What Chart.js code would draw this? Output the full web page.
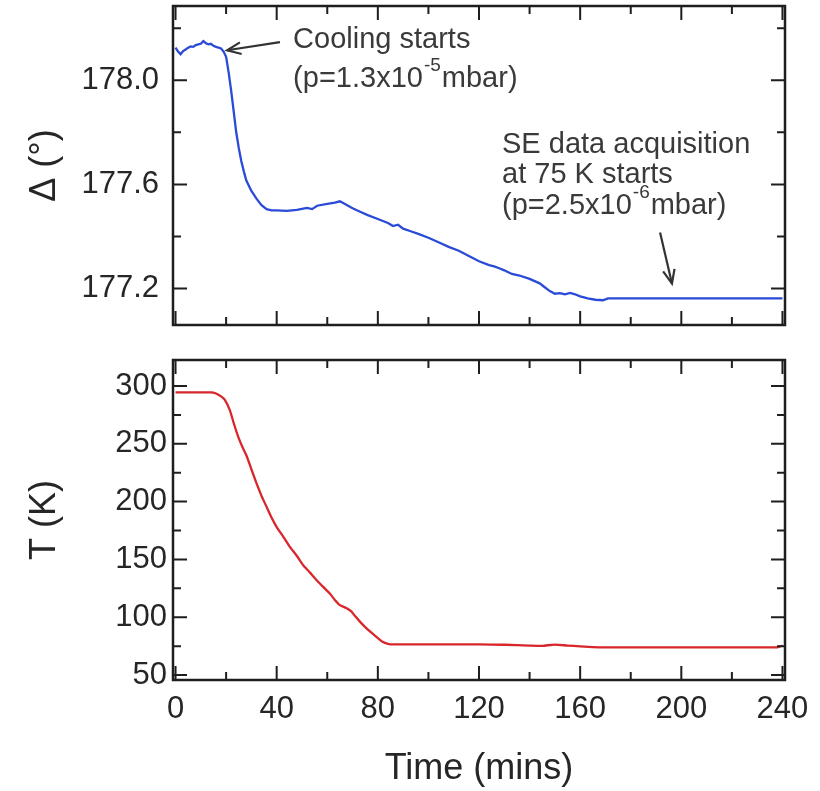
<!DOCTYPE html>
<html lang="en">
<head>
<meta charset="UTF-8">
<title>Cooling run: Δ and T vs time</title>
<script src="https://cdn.jsdelivr.net/npm/chart.js"></script>
<style>
  body { margin: 0; background: #fff; }
  #wrap { position: relative; width: 820px; height: 791px; }
  .panel { position: absolute; left: 0; width: 820px; }
  #topPanel { top: 0; height: 340px; }
  #bottomPanel { top: 340px; height: 451px; }
</style>
</head>
<body>
<div id="wrap">
  <div class="panel" id="topPanel"><canvas id="deltaChart"></canvas></div>
  <div class="panel" id="bottomPanel"><canvas id="tempChart"></canvas></div>
</div>

<script>
// ellipsometric angle Δ during cool-down
const deltaTime = [0, 1, 2, 3, 4, 5, 6, 7, 8, 9, 10, 11, 12, 13, 14, 15, 16, 17, 18, 19,
  20, 21, 22, 23, 24, 25, 26, 27, 28, 30, 32, 34, 36, 38, 40, 44, 48, 52, 54, 56,
  60, 63, 65, 67, 70, 73, 76, 80, 84, 86, 88, 90, 93, 96, 100, 104, 108, 112, 116, 120,
  124, 126, 128, 130, 133, 136, 140, 144, 146, 148, 150, 152, 154, 156, 158, 160, 163, 166, 169, 171,
  200, 240];
const deltaValues = [178.125, 178.11, 178.100, 178.112, 178.118, 178.125, 178.13, 178.128, 178.135, 178.138,
  178.14, 178.15, 178.142, 178.138, 178.14, 178.132, 178.128, 178.125, 178.122, 178.11,
  178.09, 178.03, 177.96, 177.88, 177.80, 177.74, 177.69, 177.65, 177.615, 177.575,
  177.545, 177.52, 177.505, 177.50, 177.50, 177.498, 177.502, 177.51, 177.505, 177.518,
  177.525, 177.53, 177.535, 177.525, 177.508, 177.495, 177.482, 177.467, 177.452, 177.44,
  177.445, 177.43, 177.42, 177.41, 177.395, 177.378, 177.36, 177.345, 177.325, 177.305,
  177.29, 177.285, 177.278, 177.27, 177.256, 177.25, 177.237, 177.22, 177.205, 177.19,
  177.18, 177.182, 177.178, 177.183, 177.178, 177.17, 177.162, 177.157, 177.155, 177.162,
  177.162, 177.162];

// sample temperature
const tempTime = [0, 14, 16, 18, 19.5, 21.5, 23, 24.8, 26.5, 28.2, 30, 32, 34, 36, 38, 40,
  42.5, 45, 48, 50.5, 53, 55.8, 58.5, 61, 63, 65, 67.5, 69.5, 71, 73, 75, 77, 80, 82, 84, 86,
  100, 120, 130, 140, 145, 150, 155, 160, 165, 170, 200, 230, 238, 240];
const tempValues = [294.5, 294.5, 293.5, 291, 288, 279, 268, 256, 247, 239, 228, 216, 205, 195.5, 186, 178,
  170, 161.5, 153, 145, 139, 132, 126, 120.5, 115, 110.5, 108, 105, 101, 96, 91.5, 87.5, 82, 78.5, 77, 76.5,
  76.5, 76.5, 76.2, 75.5, 75.3, 76.3, 75.5, 74.8, 74.2, 74, 74, 74, 74, 75.5];

// axis ticks
const timeLabels = [0, 40, 80, 120, 160, 200, 240];
const timeMinor = [20, 60, 100, 140, 180, 220];
const deltaLabels = [177.2, 177.6, 178.0];
const deltaMinor = [177.4, 177.8, 178.2];
const tempLabels = [50, 100, 150, 200, 250, 300];
const tempMinor = [75, 125, 175, 225, 275];

const FONT = '"Liberation Sans", Arial, Helvetica, sans-serif';
const INK = '#262626';

// inward tick marks on all four sides plus the box frame
const frameTicks = {
  id: 'frameTicks',
  afterDatasetsDraw(chart, args, opts) {
    const { ctx, chartArea: a, scales } = chart;
    ctx.save();
    ctx.strokeStyle = '#1e1e1e';
    ctx.lineWidth = 2;
    const mark = (scale, values, len) => {
      values.forEach(v => {
        const p = scale.getPixelForValue(v);
        ctx.beginPath();
        if (scale.isHorizontal()) {
          ctx.moveTo(p, a.bottom); ctx.lineTo(p, a.bottom - len);
          ctx.moveTo(p, a.top); ctx.lineTo(p, a.top + len);
        } else {
          ctx.moveTo(a.left, p); ctx.lineTo(a.left + len, p);
          ctx.moveTo(a.right, p); ctx.lineTo(a.right - len, p);
        }
        ctx.stroke();
      });
    };
    mark(scales.x, opts.xMajor, 14);
    mark(scales.x, opts.xMinor, 8);
    mark(scales.y, opts.yMajor, 14);
    mark(scales.y, opts.yMinor, 8);
    ctx.lineWidth = 2.5;
    ctx.strokeRect(a.left, a.top, a.right - a.left, a.bottom - a.top);
    ctx.restore();
  }
};

// text notes and arrows, placed in data units
const noteFont = 29;
const coolingNote = { t: 46.5, lines: [178.123, 177.973], text: 'Cooling starts', base: '(p=1.3x10', sup: '-5', tail: 'mbar)' };
const coolingArrow = { from: [41.3, 178.146], to: [20.4, 178.115] };
const seNote = { t: 129.1, lines: [177.719, 177.604, 177.485], text: ['SE data acquisition', 'at 75 K starts'], base: '(p=2.5x10', sup: '-6', tail: 'mbar)' };
const seArrow = { from: [191.6, 177.415], to: [196.3, 177.219] };

function supLine(ctx, x, y, base, sup, tail) {
  ctx.font = noteFont + 'px ' + FONT;
  ctx.fillText(base, x, y);
  x += ctx.measureText(base).width + 1;
  ctx.font = '19px ' + FONT;
  ctx.fillText(sup, x, y - 16);
  x += ctx.measureText(sup).width + 1;
  ctx.font = noteFont + 'px ' + FONT;
  ctx.fillText(tail, x, y);
}

function arrow(ctx, x0, y0, x1, y1) {
  const ang = Math.atan2(y1 - y0, x1 - x0);
  ctx.beginPath();
  ctx.moveTo(x0, y0); ctx.lineTo(x1, y1);
  ctx.stroke();
  ctx.beginPath();
  ctx.moveTo(x1 - 15 * Math.cos(ang - 0.4), y1 - 15 * Math.sin(ang - 0.4));
  ctx.lineTo(x1, y1);
  ctx.lineTo(x1 - 15 * Math.cos(ang + 0.4), y1 - 15 * Math.sin(ang + 0.4));
  ctx.stroke();
}

const notes = {
  id: 'notes',
  afterDraw(chart) {
    const { ctx, scales: { x, y } } = chart;
    const px = t => x.getPixelForValue(t);
    const py = v => y.getPixelForValue(v);
    ctx.save();
    ctx.fillStyle = '#3a3a3a';
    ctx.strokeStyle = '#333';
    ctx.lineWidth = 2.2;
    ctx.textBaseline = 'alphabetic';
    ctx.textAlign = 'left';

    ctx.font = noteFont + 'px ' + FONT;
    ctx.fillText(coolingNote.text, px(coolingNote.t), py(coolingNote.lines[0]));
    supLine(ctx, px(coolingNote.t), py(coolingNote.lines[1]), coolingNote.base, coolingNote.sup, coolingNote.tail);
    arrow(ctx, px(coolingArrow.from[0]), py(coolingArrow.from[1]), px(coolingArrow.to[0]), py(coolingArrow.to[1]));

    ctx.font = noteFont + 'px ' + FONT;
    seNote.text.forEach((s, i) => ctx.fillText(s, px(seNote.t), py(seNote.lines[i])));
    supLine(ctx, px(seNote.t), py(seNote.lines[2]), seNote.base, seNote.sup, seNote.tail);
    arrow(ctx, px(seArrow.from[0]), py(seArrow.from[1]), px(seArrow.to[0]), py(seArrow.to[1]));
    ctx.restore();
  }
};

function yAxis(min, max, labels, fmt, title, pad) {
  return {
    type: 'linear', min: min, max: max,
    afterFit: s => { s.width = 173; s.paddingTop = 0; s.paddingBottom = 0; },
    afterBuildTicks: s => { s.ticks = labels.map(v => ({ value: v })); },
    grid: { display: false, drawTicks: false },
    border: { display: false },
    ticks: { autoSkip: false, padding: pad, color: INK, font: { family: FONT, size: 31 }, callback: fmt },
    title: { display: true, text: title, color: INK, font: { family: FONT, size: 36 }, padding: { top: 23, bottom: 0 } }
  };
}

const common = {
  responsive: true,
  maintainAspectRatio: false,
  animation: false,
  events: []
};

new Chart(document.getElementById('deltaChart'), {
  type: 'line',
  data: {
    datasets: [{
      data: deltaTime.map((t, i) => ({ x: t, y: deltaValues[i] })),
      borderColor: '#2a4bd7',
      borderWidth: 2.3,
      pointRadius: 0,
      tension: 0
    }]
  },
  options: Object.assign({}, common, {
    layout: { padding: { top: 6, right: 35, bottom: 15, left: 0 } },
    plugins: {
      legend: { display: false },
      tooltip: { enabled: false },
      frameTicks: { xMajor: timeLabels, xMinor: timeMinor, yMajor: deltaLabels, yMinor: deltaMinor }
    },
    scales: {
      x: { type: 'linear', display: false, min: -1, max: 241 },
      y: yAxis(177.06, 178.285, deltaLabels, v => v.toFixed(1), 'Δ (°)', 14)
    }
  }),
  plugins: [frameTicks, notes]
});

new Chart(document.getElementById('tempChart'), {
  type: 'line',
  data: {
    datasets: [{
      data: tempTime.map((t, i) => ({ x: t, y: tempValues[i] })),
      borderColor: '#d8262b',
      borderWidth: 2.3,
      pointRadius: 0,
      tension: 0.2
    }]
  },
  options: Object.assign({}, common, {
    layout: { padding: { top: 20, right: 35, bottom: 0, left: 0 } },
    plugins: {
      legend: { display: false },
      tooltip: { enabled: false },
      frameTicks: { xMajor: timeLabels, xMinor: timeMinor, yMajor: tempLabels, yMinor: tempMinor }
    },
    scales: {
      x: {
        type: 'linear', min: -1, max: 241,
        afterFit: s => { s.height = 111; s.paddingLeft = 0; s.paddingRight = 0; },
        afterBuildTicks: s => { s.ticks = timeLabels.map(v => ({ value: v })); },
        grid: { display: false, drawTicks: false },
        border: { display: false },
        ticks: { autoSkip: false, maxRotation: 0, padding: 11, color: INK, font: { family: FONT, size: 31 }, callback: v => String(v) },
        title: { display: true, text: 'Time (mins)', color: INK, font: { family: FONT, size: 36 }, padding: { top: 0, bottom: 0 } }
      },
      y: yAxis(45.7, 322.5, tempLabels, v => String(v), 'T (K)', 6)
    }
  }),
  plugins: [frameTicks]
});
</script>
</body>
</html>
